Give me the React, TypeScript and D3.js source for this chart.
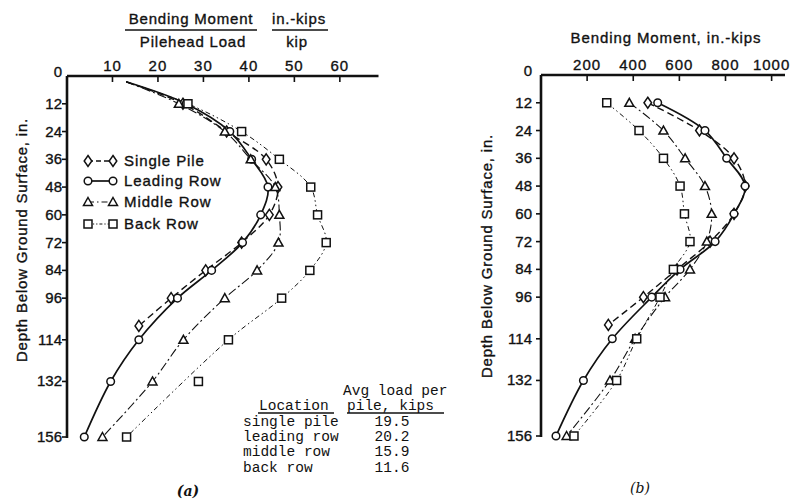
import React from "react";
import * as d3 from "d3";

// Depth readings along the pile, inches below ground surface
const depthTicks = [0, 12, 24, 36, 48, 60, 72, 84, 96, 114, 132, 156];
const depthsFull = [12, 24, 36, 48, 60, 72, 84, 96, 114, 132, 156];
const depthsSingle = [12, 24, 36, 48, 60, 72, 84, 96, 108];

// (a) Bending moment / pilehead load, in.-kips per kip
const normSingle = [25.5, 35.1, 43.8, 46.4, 44.5, 38.4, 30.5, 22.9, 15.8];
const normLeading = [26.2, 35.8, 40.6, 44.2, 42.6, 38.6, 31.8, 24.3, 15.8, 9.6, 3.8];
const normMiddle = [24.6, 34.7, 40.4, 45.8, 46.7, 46.5, 41.8, 34.7, 25.6, 18.8, 7.8];
const normBack = [26.6, 38.4, 46.7, 53.6, 55.1, 57.0, 53.4, 47.2, 35.5, 28.9, 13.1];
// Common head of the normalised curves near the surface
const normHead = { depth: 2.5, value: 13 };
// Back-row reading at 132 in. lies off the fitted curve
const normBackOffCurve = [132];

// (b) Bending moment, in.-kips
const momSingle = [463, 687, 837, 885, 837, 733, 590, 444, 292];
const momLeading = [506, 711, 805, 885, 837, 755, 603, 480, 309, 184, 65];
const momMiddle = [383, 531, 625, 711, 740, 719, 646, 538, 408, 299, 111];
const momBack = [285, 425, 531, 603, 622, 646, 574, 516, 415, 328, 143];

const xTicksA = [10, 20, 30, 40, 50, 60];
const xTicksB = [200, 400, 600, 800, 1000];

const legendLabels = ["Single Pile", "Leading Row", "Middle Row", "Back Row"];
const tableLocations = ["single pile", "leading row", "middle row", "back row"];
const tableLoads = ["19.5", "20.2", "15.9", "11.6"];

type Marker = "diamond" | "circle" | "triangle" | "square";
const seriesMarkers: Marker[] = ["diamond", "circle", "triangle", "square"];
const seriesDash = ["7,4", "none", "9,3,2,3", "5,3,1.5,3,1.5,3"];
const legendDash = ["5,3", "none", "6,3,1.5,3", "3,2,1.2,2,1.2,2"];
const seriesWidth = [1.4, 1.7, 1.1, 1.0];

const INK = "#111";
const SANS = "'Liberation Sans', 'DejaVu Sans', sans-serif";
const MONO = "'Liberation Mono', 'DejaVu Sans Mono', monospace";
// slight stroke gives the lettering its pen weight
const PEN = { stroke: INK, strokeWidth: 0.35 };

function MarkerShape({ kind, x, y }: { kind: Marker; x: number; y: number }) {
  const common = { fill: "#fff", stroke: INK, strokeWidth: 1.5 };
  if (kind === "circle") return <circle cx={x} cy={y} r={3.8} {...common} />;
  if (kind === "square")
    return <rect x={x - 4} y={y - 4} width={8} height={8} {...common} />;
  if (kind === "triangle")
    return <path d={`M${x},${y - 4.5}L${x + 4.5},${y + 3.5}L${x - 4.5},${y + 3.5}Z`} {...common} />;
  return <path d={`M${x},${y - 5.5}L${x + 3.8},${y}L${x},${y + 5.5}L${x - 3.8},${y}Z`} {...common} />;
}

type Series = { depths: number[]; values: number[]; head?: { depth: number; value: number }; skip?: number[] };

function Panel({
  x, y, series, xTicks, yTickRight,
}: {
  x: d3.ScaleLinear<number, number>;
  y: d3.ScaleLinear<number, number>;
  series: Series[];
  xTicks: number[];
  yTickRight: number;
}) {
  const [x0, x1] = x.range();
  const [y0] = y.range();
  const yEnd = y(156);
  const line = d3
    .line<[number, number]>()
    .x((p) => x(p[0]))
    .y((p) => y(p[1]))
    .curve(d3.curveCatmullRom.alpha(0.5));
  return (
    <g>
      {series.map((s, i) => {
        const pts: [number, number][] = [];
        if (s.head) pts.push([s.head.value, s.head.depth]);
        s.depths.forEach((d, k) => {
          if (!(s.skip && s.skip.includes(d))) pts.push([s.values[k], d]);
        });
        return (
          <path
            key={"l" + i}
            d={line(pts) || ""}
            fill="none"
            stroke={INK}
            strokeWidth={seriesWidth[i]}
            strokeDasharray={seriesDash[i]}
          />
        );
      })}
      {series.map((s, i) =>
        s.depths.map((d, k) => (
          <MarkerShape key={`m${i}-${k}`} kind={seriesMarkers[i]} x={x(s.values[k])} y={y(d)} />
        ))
      )}
      {/* axes */}
      <line x1={x0} x2={x1} y1={y0} y2={y0} stroke={INK} strokeWidth={2.6} />
      <line x1={x0} x2={x0} y1={y0} y2={yEnd + 1} stroke={INK} strokeWidth={2.6} />
      {xTicks.map((t) => (
        <g key={"xt" + t}>
          <line x1={x(t)} x2={x(t)} y1={y0} y2={y0 + 6} stroke={INK} strokeWidth={1.6} />
          <text x={x(t)} y={y0 - 5} textAnchor="middle" fontFamily={SANS} fontSize={15} fill={INK} letterSpacing={1} {...PEN}>
            {t}
          </text>
        </g>
      ))}
      {depthTicks.map((t) => (
        <g key={"yt" + t}>
          {t > 0 && <line x1={x0 - 5} x2={x0} y1={y(t)} y2={y(t)} stroke={INK} strokeWidth={1.6} />}
          <text
            x={yTickRight}
            y={y(t) + (t === 0 ? 1 : 5)}
            textAnchor="end"
            fontFamily={SANS}
            fontSize={15}
            fill={INK}
            {...PEN}
          >
            {t}
          </text>
        </g>
      ))}
    </g>
  );
}

export default function App() {
  const xA = d3.scaleLinear().domain([0, 68.5]).range([67, 378.5]);
  const yA = d3.scaleLinear().domain([0, 156]).range([76, 437]);
  const xB = d3.scaleLinear().domain([0, 1058]).range([541, 785]);
  const yB = d3.scaleLinear().domain([0, 156]).range([75, 436]);

  const normSeries: Series[] = [
    { depths: depthsSingle, values: normSingle, head: normHead },
    { depths: depthsFull, values: normLeading, head: normHead },
    { depths: depthsFull, values: normMiddle, head: normHead },
    { depths: depthsFull, values: normBack, head: normHead, skip: normBackOffCurve },
  ];
  const momSeries: Series[] = [
    { depths: depthsSingle, values: momSingle },
    { depths: depthsFull, values: momLeading },
    { depths: depthsFull, values: momMiddle },
    { depths: depthsFull, values: momBack },
  ];

  const legendY = [161, 181, 202, 224];
  const tableRowY = [426, 441, 456, 472];

  return (
    <div style={{ position: "absolute", left: 0, top: 0 }}>
      <svg width={791} height={501} viewBox="0 0 791 501" style={{ display: "block", background: "#fff" }}>
        {/* (a) title as a fraction */}
        <g fontFamily={SANS} fontSize={15} fill={INK} letterSpacing={0.8}>
          <text x={191} y={24} textAnchor="middle" {...PEN}>Bending Moment</text>
          <text x={299} y={24} textAnchor="middle" {...PEN}>in.-kips</text>
          <line x1={125} x2={257} y1={30} y2={30} stroke={INK} strokeWidth={1.6} />
          <line x1={272} x2={328} y1={30} y2={30} stroke={INK} strokeWidth={1.6} />
          <text x={193} y={47} textAnchor="middle" {...PEN}>Pilehead Load</text>
          <text x={297} y={47} textAnchor="middle" {...PEN}>kip</text>
        </g>
        <text
          transform="translate(27,240) rotate(-90)"
          textAnchor="middle"
          fontFamily={SANS}
          fontSize={15}
          letterSpacing={0.8}
          fill={INK}
          {...PEN}
        >
          Depth Below Ground Surface, in.
        </text>

        <Panel x={xA} y={yA} series={normSeries} xTicks={xTicksA} yTickRight={62} />

        {/* legend */}
        {legendLabels.map((lab, i) => (
          <g key={lab}>
            <line
              x1={88}
              x2={113}
              y1={legendY[i]}
              y2={legendY[i]}
              stroke={INK}
              strokeWidth={seriesWidth[i]}
              strokeDasharray={legendDash[i]}
            />
            <MarkerShape kind={seriesMarkers[i]} x={88} y={legendY[i]} />
            <MarkerShape kind={seriesMarkers[i]} x={113} y={legendY[i]} />
            <text x={124} y={legendY[i] + 5} fontFamily={SANS} fontSize={15} letterSpacing={0.9} fill={INK} {...PEN}>
              {lab}
            </text>
          </g>
        ))}

        {/* load table */}
        <g fontFamily={MONO} fontSize={14.5} fill={INK}>
          <text x={343} y={395}>Avg load per</text>
          <text x={259} y={410}>Location</text>
          <text x={347} y={410}>pile, kips</text>
          <line x1={258} x2={334} y1={413} y2={413} stroke={INK} strokeWidth={1.3} />
          <line x1={347} x2={444} y1={413} y2={413} stroke={INK} strokeWidth={1.3} />
          {tableLocations.map((loc, i) => (
            <g key={loc}>
              <text x={243} y={tableRowY[i]}>{loc}</text>
              <text x={392} y={tableRowY[i]} textAnchor="middle">{tableLoads[i]}</text>
            </g>
          ))}
        </g>

        {/* (b) */}
        <text x={666} y={43} textAnchor="middle" fontFamily={SANS} fontSize={15} letterSpacing={0.9} fill={INK} {...PEN}>
          Bending Moment, in.-kips
        </text>
        <text
          transform="translate(492,256) rotate(-90)"
          textAnchor="middle"
          fontFamily={SANS}
          fontSize={15}
          letterSpacing={0.8}
          fill={INK}
          {...PEN}
        >
          Depth Below Ground Surface, in.
        </text>
        <Panel x={xB} y={yB} series={momSeries} xTicks={xTicksB} yTickRight={532} />

        {/* captions */}
        <text x={188} y={496} textAnchor="middle" fontFamily="'DejaVu Serif', serif" fontStyle="italic" fontWeight="bold" fontSize={14} fill={INK}>
          (a)
        </text>
        <text x={640} y={493} textAnchor="middle" fontFamily="'DejaVu Serif', serif" fontStyle="italic" fontSize={14} fill={INK}>
          (b)
        </text>
      </svg>
    </div>
  );
}
